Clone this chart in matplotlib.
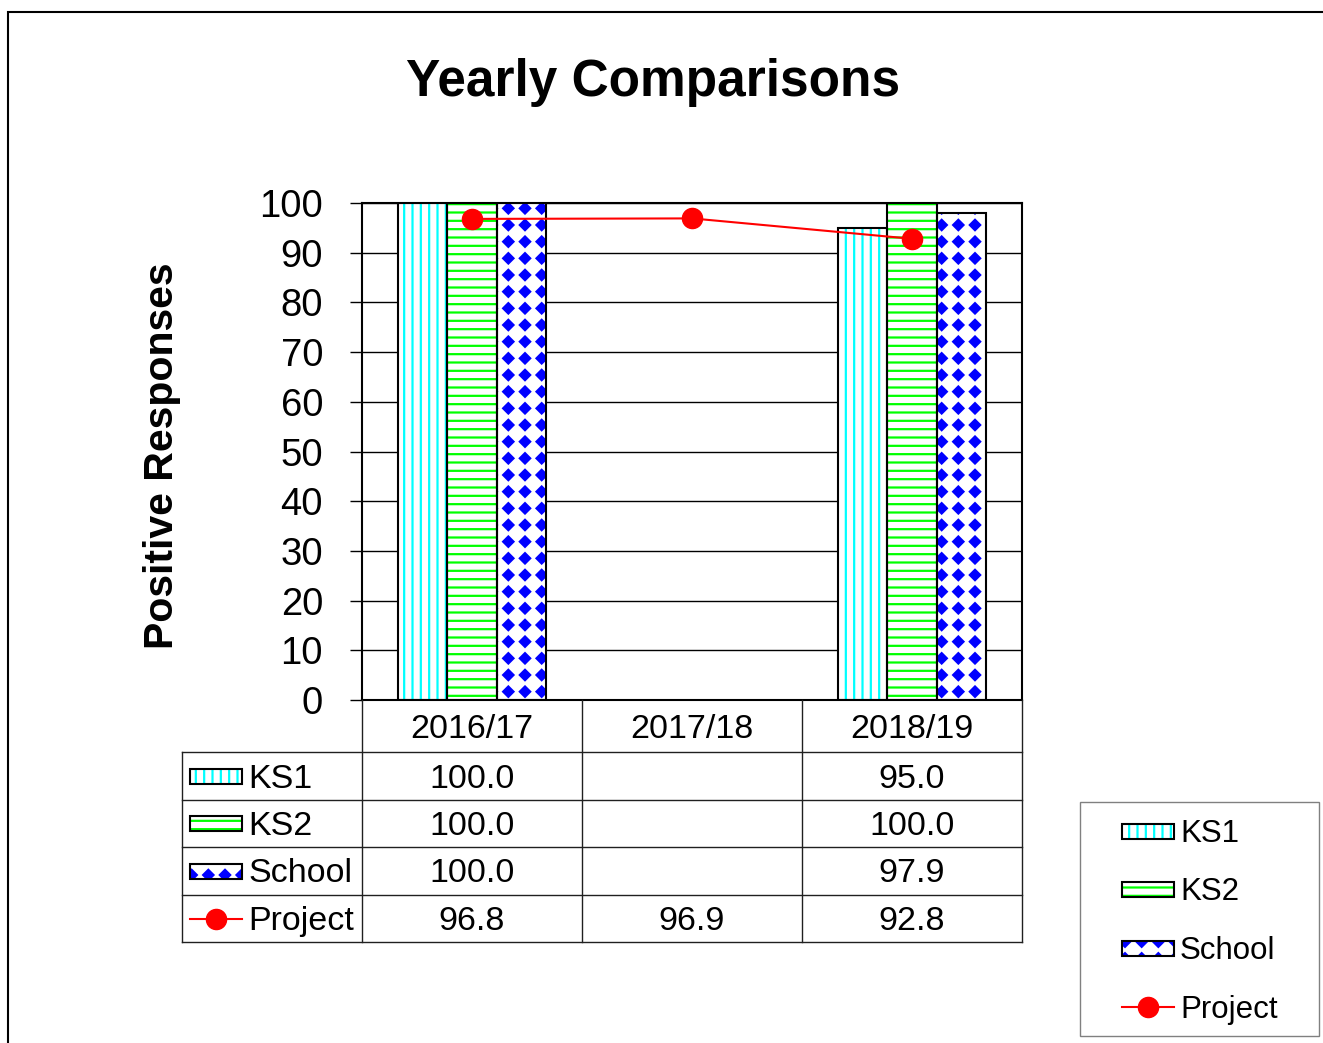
import numpy as np
import matplotlib
matplotlib.use("Agg")
import matplotlib.pyplot as plt
import matplotlib.hatch as mhatch
from matplotlib.path import Path
from matplotlib.patches import Rectangle
from matplotlib.lines import Line2D
from matplotlib import transforms

years = ["2016/17", "2017/18", "2018/19"]
ks1 = [100.0, np.nan, 95.0]
ks2 = [100.0, np.nan, 100.0]
school = [100.0, np.nan, 97.9]
project = [96.8, 96.9, 92.8]

bar_names = ["KS1", "KS2", "School"]
bar_colors = ["#00FFFF", "#00FF00", "#0000FF"]
bar_hatches = ["||", "--", "O"]


# square grid of filled diamonds for the School pattern (replaces 'O')
class Diamonds(mhatch.HatchPatternBase):
    def __init__(self, hatch, density):
        self.num_rows = hatch.count('O') * density
        self.num_vertices = self.num_rows ** 2 * 5

    def set_vertices_and_codes(self, vertices, codes):
        n = self.num_rows
        s = 1.0 / n
        r = 0.31 * s
        shape = np.array([[0, -r], [r, 0], [0, r], [-r, 0], [0, -r]])
        parts = [shape + [(i + 0.5) * s, (j + 0.5) * s]
                 for i in range(n) for j in range(n)]
        vertices[:] = np.concatenate(parts)
        c = [Path.MOVETO, Path.LINETO, Path.LINETO, Path.LINETO, Path.CLOSEPOLY]
        codes[:] = np.tile(c, n * n)


mhatch._hatch_types = [t for t in mhatch._hatch_types
                       if t is not mhatch.LargeCircles] + [Diamonds]

plt.rcParams['font.family'] = ['Liberation Sans', 'DejaVu Sans']
plt.rcParams['hatch.linewidth'] = 1.6

W, H = 1323, 1043
fig = plt.figure(figsize=(W / 100, H / 100), dpi=100)
fig.patch.set_facecolor('white')


def fx(x):
    return x / W


def fy(y):
    return 1 - y / H


# axes placed at the pixel box of the plot area
ax = fig.add_axes([fx(362), fy(700), (1022 - 362) / W, (700 - 203) / H])
ax.set_xlim(-0.5, 2.5)
ax.set_ylim(0, 100)
ax.set_yticks(range(0, 101, 10))
ax.set_xticks([])
ax.yaxis.grid(True, color='black', lw=1)
ax.set_axisbelow(True)
for sp in ax.spines.values():
    sp.set_linewidth(1.5)
ax.tick_params(axis='y', length=9, width=1, pad=19, labelsize=27.5)

x = np.arange(len(years))
width = 0.224
offsets = [-width, 0, width]
for vals, col, hat, off in zip([ks1, ks2, school], bar_colors, bar_hatches, offsets):
    ax.bar(x + off, vals, width, facecolor='white', edgecolor=col,
           linewidth=0, hatch=hat, zorder=2)
    ax.bar(x + off, vals, width, fill=False, edgecolor='black',
           linewidth=1.5, zorder=3)

ax.plot(x, project, color='red', lw=1.5, marker='o', ms=14.5, zorder=4)

# title and y label
fig.text(fx(653), fy(96), "Yearly Comparisons", ha='center', va='baseline',
         fontsize=37, fontweight='bold')
fig.text(fx(162), fy(456), "Positive Responses", ha='center', va='center',
         rotation=90, fontsize=29.5, fontweight='bold')


# outer frame
fig.add_artist(Rectangle((fx(8), fy(1100)), 2, fy(12) - fy(1100), fill=False,
                         edgecolor='black', lw=1.5, transform=fig.transFigure))

# data table under the plot
tr = transforms.blended_transform_factory(ax.transData, fig.transFigure)
row_edges = [752, 800, 847, 895, 942]
lc = '#202020'
dy = 3  # va='center' sits a little high for digits/caps
for y in row_edges:
    fig.add_artist(Line2D([fx(182), fx(1022)], [fy(y), fy(y)], color=lc, lw=1))
fig.add_artist(Line2D([fx(182), fx(182)], [fy(752), fy(942)], color=lc, lw=1))
for xe in [-0.5, 0.5, 1.5, 2.5]:
    fig.add_artist(Line2D([xe, xe], [fy(700), fy(942)], color=lc, lw=1,
                          transform=tr))

for i, yr in enumerate(years):
    fig.text(i, fy(726 + dy), yr, transform=tr, ha='center', va='center',
             fontsize=24.5)

table_rows = [ks1, ks2, school, project]
row_names = bar_names + ["Project"]
for r, (vals, name) in enumerate(zip(table_rows, row_names)):
    yc = (row_edges[r] + row_edges[r + 1]) / 2
    for i, v in enumerate(vals):
        if not np.isnan(v):
            fig.text(i, fy(yc + dy), f"{v:.1f}", transform=tr, ha='center',
                     va='center', fontsize=24.5)
    fig.text(fx(248), fy(yc + dy), name, ha='left', va='center', fontsize=24.5)


def swatch(x0, yc, idx):
    if idx < 3:
        for fill_kw in [dict(facecolor='white', edgecolor=bar_colors[idx],
                             linewidth=0, hatch=bar_hatches[idx]),
                        dict(fill=False, edgecolor='black', linewidth=1.5)]:
            fig.add_artist(Rectangle((fx(x0), fy(yc + 7.5)), 52 / W, 15 / H,
                                     transform=fig.transFigure, **fill_kw))
    else:
        fig.add_artist(Line2D([fx(x0), fx(x0 + 52)], [fy(yc), fy(yc)],
                              color='red', lw=1.5))
        fig.add_artist(Line2D([fx(x0 + 26)], [fy(yc)], color='red',
                              marker='o', ms=14.5, lw=0))


for r in range(4):
    yc = (row_edges[r] + row_edges[r + 1]) / 2
    swatch(190, yc, r)

# legend box at the lower right
fig.add_artist(Rectangle((fx(1080), fy(1036)), (1319 - 1080) / W, (1036 - 802) / H,
                         fill=False, edgecolor='#808080', lw=1,
                         transform=fig.transFigure))
for r, (yc, name) in enumerate(zip([831, 889, 948, 1007], row_names)):
    swatch(1122, yc, r)
    fig.text(fx(1180), fy(yc + dy), name, ha='left', va='center', fontsize=22.5)

fig.savefig("out.png", dpi=100, facecolor='white')
